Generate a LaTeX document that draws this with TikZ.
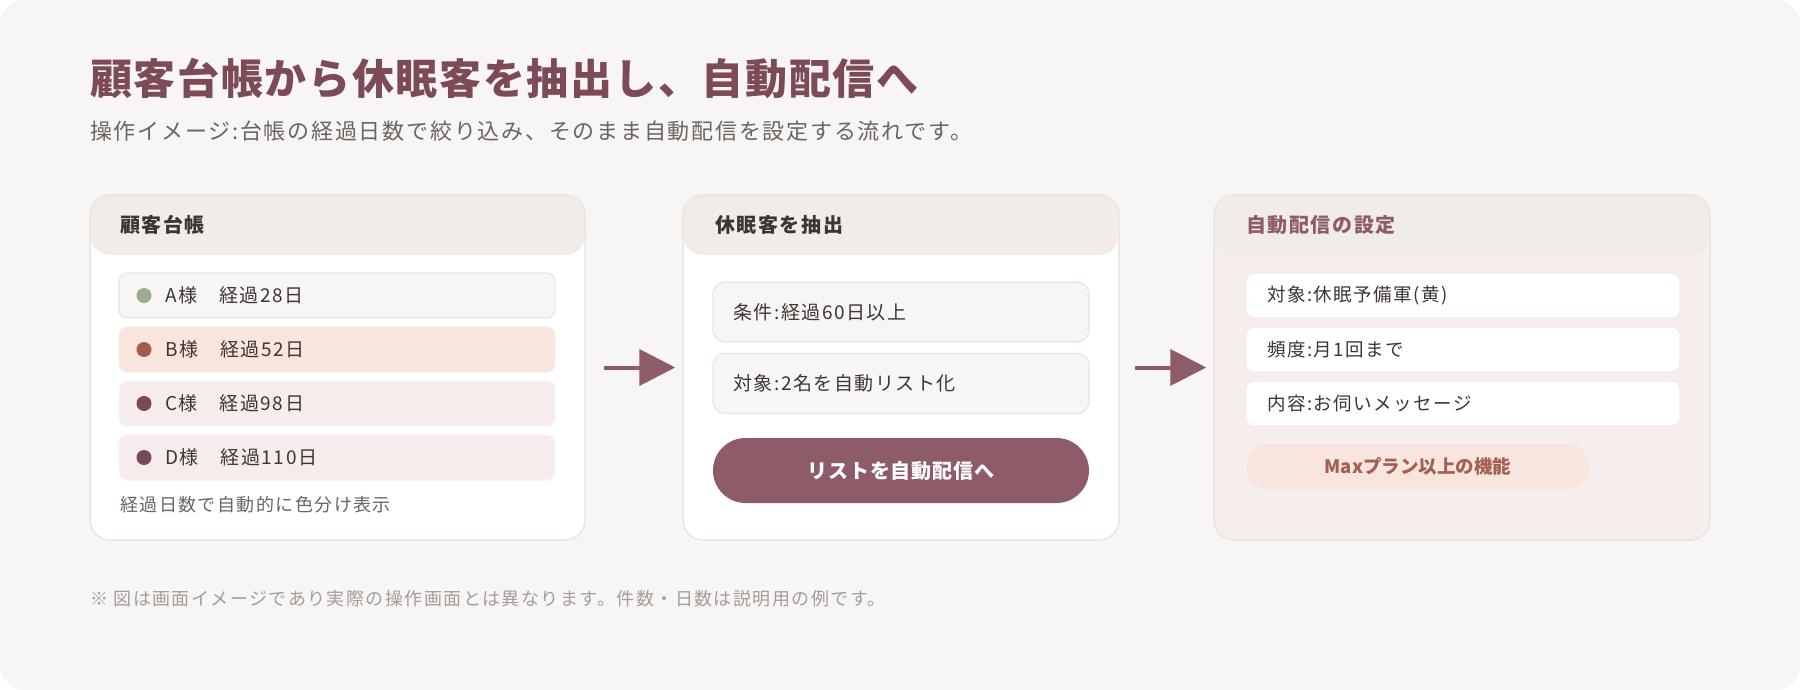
\documentclass[tikz,border=0pt]{standalone}
\usepackage{fontspec}
\setmainfont{Noto Sans CJK JP}
\newfontfamily\jpwide{Noto Sans CJK JP}[LetterSpace=8]
\newfontfamily\jptitle{Noto Sans CJK JP}[LetterSpace=4]
\usetikzlibrary{arrows.meta}

\definecolor{pagebg}{HTML}{F8F6F4}
\definecolor{cardline}{HTML}{ECE4E0}
\definecolor{cardhead}{HTML}{F2ECE8}
\definecolor{cTitle}{HTML}{7D4A58}
\definecolor{cAccent}{HTML}{8E5C69}
\definecolor{cText}{HTML}{3D3533}
\definecolor{cSub}{HTML}{6B6461}
\definecolor{cNote}{HTML}{A39C99}
\definecolor{cPink}{HTML}{F6EDED}
\definecolor{cRowA}{HTML}{F8F6F4}
\definecolor{cRowB}{HTML}{F8E6DE}
\definecolor{cRowC}{HTML}{F6ECEC}
\definecolor{cDotA}{HTML}{9BAA90}
\definecolor{cDotB}{HTML}{A55D4B}
\definecolor{cDotC}{HTML}{7B4757}
\definecolor{cMax}{HTML}{A3604F}
\definecolor{cMaxBg}{HTML}{F8E5DE}

\begin{document}
\begin{tikzpicture}[x=1pt, y=-1pt, inner sep=0pt]

\tikzset{
  card/.style     = {draw=cardline, line width=1.5pt, rounded corners=20pt,
                     minimum height=345pt, fill=white,
                     path picture={\fill[cardhead]
                       (path picture bounding box.north west) rectangle
                       ([yshift=-60pt]path picture bounding box.north east);}},
  cardtitle/.style= {font=\jpwide\fontsize{20}{24}\selectfont\bfseries, text=cText, anchor=west},
  row/.style      = {draw=cardline, line width=1.2pt, rounded corners=8pt,
                     minimum height=45pt},
  rowtext/.style  = {font=\jpwide\fontsize{19}{23}\selectfont, text=cText, anchor=west},
  dot/.style      = {circle, minimum size=15pt},
  flow/.style     = {draw=cAccent, line width=4pt,
                     -{Triangle[length=36pt, width=36pt]}},
}

\useasboundingbox (0,0) rectangle (1800,690);
\fill[pagebg, rounded corners=25pt] (0,0) rectangle (1800,690);

%% ---------- heading ----------
\node[font=\jptitle\fontsize{42}{50}\selectfont\bfseries, text=cTitle, anchor=west] (title) at (90,79)
  {顧客台帳から休眠客を抽出し、自動配信へ};
\node[font=\jpwide\fontsize{22}{26}\selectfont, text=cSub, anchor=west] (subtitle) at (90,131)
  {操作イメージ:台帳の経過日数で絞り込み、そのまま自動配信を設定する流れです。};

%% ---------- card 1: ledger ----------
\node[card, minimum width=495pt] (ledger) at (337.5,367.5) {};
\node[cardtitle] (ledgerhead) at (120,225) {顧客台帳};

\node[row, fill=cRowA, minimum width=436pt] (rowa) at (337,295.5) {};
\node[row, fill=cRowB, draw=cRowB!85!cDotB!40, minimum width=436pt] (rowb) at (337,349.5) {};
\node[row, fill=cRowC, draw=cRowC!90!cDotC!30, minimum width=436pt] (rowc) at (337,403.5) {};
\node[row, fill=cRowC, draw=cRowC!90!cDotC!30, minimum width=436pt] (rowd) at (337,457.5) {};

\node[dot, fill=cDotA] (dota) at (144,295.5) {};
\node[dot, fill=cDotB] (dotb) at (144,349.5) {};
\node[dot, fill=cDotC] (dotc) at (144,403.5) {};
\node[dot, fill=cDotC] (dotd) at (144,457.5) {};

\node[rowtext] (texta) at (165,295.5) {A様　経過28日};
\node[rowtext] (textb) at (165,349.5) {B様　経過52日};
\node[rowtext] (textc) at (165,403.5) {C様　経過98日};
\node[rowtext] (textd) at (165,457.5) {D様　経過110日};

\node[font=\jpwide\fontsize{18}{22}\selectfont, text=cSub, anchor=west] (ledgernote) at (120,505)
  {経過日数で自動的に色分け表示};

%% ---------- card 2: extract ----------
\node[card, minimum width=436pt] (extract) at (901,367.5) {};
\node[cardtitle] (extracthead) at (715,225) {休眠客を抽出};

\node[row, fill=cRowA, minimum width=376pt, minimum height=60pt, rounded corners=12pt] (cond) at (901,312) {};
\node[row, fill=cRowA, minimum width=376pt, minimum height=60pt, rounded corners=12pt] (target) at (901,383.5) {};
\node[rowtext] (condtext) at (733,312) {条件:経過60日以上};
\node[rowtext] (targettext) at (733,383.5) {対象:2名を自動リスト化};

\node[fill=cAccent, rounded corners=32.5pt, minimum width=376pt, minimum height=65pt,
      font=\jptitle\fontsize{20}{24}\selectfont\bfseries, text=white] (sendbtn) at (901,470.5)
  {リストを自動配信へ};

%% ---------- card 3: delivery ----------
\node[card, minimum width=496pt, fill=cPink] (deliver) at (1462,367.5) {};
\node[cardtitle, text=cAccent] (deliverhead) at (1246,225) {自動配信の設定};

\node[row, fill=white, draw=cRowC!80!cardline, minimum width=434pt] (setta) at (1463,295.5) {};
\node[row, fill=white, draw=cRowC!80!cardline, minimum width=434pt] (settb) at (1463,349.5) {};
\node[row, fill=white, draw=cRowC!80!cardline, minimum width=434pt] (settc) at (1463,403.5) {};
\node[rowtext, font=\jpwide\fontsize{18.5}{22}\selectfont] (settatext) at (1267,295.5) {対象:休眠予備軍(黄)};
\node[rowtext, font=\jpwide\fontsize{18.5}{22}\selectfont] (settbtext) at (1267,349.5) {頻度:月1回まで};
\node[rowtext, font=\jpwide\fontsize{18.5}{22}\selectfont] (settctext) at (1267,403.5) {内容:お伺いメッセージ};

\node[fill=cMaxBg, rounded corners=22.5pt, minimum width=344pt, minimum height=45pt,
      font=\fontsize{18.5}{22}\selectfont\bfseries, text=cMax] (maxplan) at (1418,466.5)
  {Maxプラン以上の機能};

%% ---------- the flow ----------
\draw[flow, shorten <=18pt, shorten >=7pt] (ledger.east) -- (extract.west);
\draw[flow, shorten <=15pt, shorten >=7pt] (extract.east) -- (deliver.west);

%% ---------- footer ----------
\node[font=\jpwide\fontsize{18}{22}\selectfont, text=cNote, anchor=west] (footnote) at (90,599)
  {※ 図は画面イメージであり実際の操作画面とは異なります。件数・日数は説明用の例です。};

\end{tikzpicture}
\end{document}
